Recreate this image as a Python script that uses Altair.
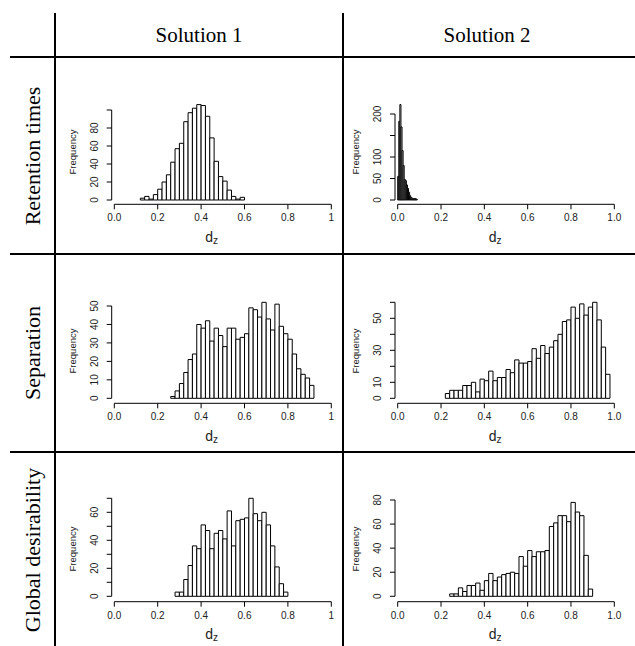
import altair as alt
import pandas as pd

# ---------------- data ----------------
BIN_W = 0.02

ret_sol1_start = 0.12
ret_sol1_counts = [2, 4, 1, 6, 12, 20, 28, 42, 57, 63, 87, 97, 102, 106, 105, 93,
                   69, 43, 26, 21, 11, 4, 1, 3]

ret_sol2_start = 0.0
ret_sol2_binw = 0.005
ret_sol2_counts = [55, 183, 222, 170, 115, 80, 48, 45, 35, 27, 18, 10, 6, 4, 3, 3, 3, 2]

sep_sol1_start = 0.26
sep_sol1_counts = [1, 4, 8, 14, 21, 24, 40, 38, 42, 31, 38, 34, 28, 38, 38, 32, 33,
                   35, 49, 48, 44, 52, 43, 37, 51, 39, 35, 32, 24, 16, 13, 11, 7]

sep_sol2_start = 0.22
sep_sol2_counts = [3, 5, 5, 5, 8, 8, 10, 4, 12, 11, 17, 11, 13, 13, 18, 16, 24, 22,
                   22, 23, 31, 25, 33, 28, 32, 36, 40, 48, 49, 57, 50, 59, 52, 57,
                   60, 49, 32, 15]

glob_sol1_start = 0.28
glob_sol1_counts = [3, 3, 12, 22, 36, 34, 51, 47, 34, 45, 47, 41, 61, 36, 54, 55, 56,
                    70, 59, 54, 60, 51, 36, 21, 9, 3]

glob_sol2_start = 0.24
glob_sol2_counts = [2, 2, 7, 4, 9, 9, 11, 5, 13, 19, 13, 16, 18, 19, 20, 19, 33, 25,
                    38, 33, 37, 37, 38, 58, 61, 67, 67, 62, 78, 70, 67, 34, 6]

x_tick_values = [0.0, 0.2, 0.4, 0.6, 0.8, 1.0]
x_labels_sol1 = ["0.0", "0.2", "0.4", "0.6", "0.8", "1"]
x_labels_sol2 = ["0.0", "0.2", "0.4", "0.6", "0.8", "1.0"]

y_ticks_ret1 = [0, 20, 40, 60, 80, 100]
y_labels_ret1 = ["0", "20", "40", "60", "80", ""]
y_ticks_ret2 = [0, 50, 100, 150, 200]
y_labels_ret2 = ["0", "50", "100", "", "200"]
y_ticks_sep1 = [0, 10, 20, 30, 40, 50]
y_labels_sep1 = ["0", "10", "20", "30", "40", "50"]
y_ticks_sep2 = [0, 10, 20, 30, 40, 50, 60]
y_labels_sep2 = ["0", "10", "", "30", "", "50", ""]
y_ticks_glob1 = [0, 10, 20, 30, 40, 50, 60, 70]
y_labels_glob1 = ["0", "", "20", "", "40", "", "60", ""]
y_ticks_glob2 = [0, 20, 40, 60, 80]
y_labels_glob2 = ["0", "20", "40", "60", "80"]

col_headers = ["Solution 1", "Solution 2"]
row_headers = ["Retention times", "Separation", "Global desirability"]

# ---------------- layout ----------------
W, H = 635, 646
COL_X = [(114.3, 331.3), (397.7, 614.3)]
COL_YAXIS_X = [111.7, 395.0]
ROW_Y0 = [200.0, 398.3, 596.3]
ROW_XAXIS_Y = [204.3, 403.3, 601.7]
FREQ_Y = [152.0, 351.0, 549.0]
DZ_Y = [238.0, 436.5, 634.5]
DZ_X = [213.0, 496.5]
HEADER_X = [199, 487]
HEADER_Y = 36
ROW_LABEL_X = 33
ROW_LABEL_Y = [156, 353, 550]

SANS = "Liberation Sans"
SERIF = "Liberation Serif"
TXT = "#222222"

panels = [
    dict(start=ret_sol1_start, binw=BIN_W, counts=ret_sol1_counts, col=0, row=0,
         yt=y_ticks_ret1, yl=y_labels_ret1, top_px=110.0),
    dict(start=ret_sol2_start, binw=ret_sol2_binw, counts=ret_sol2_counts, col=1, row=0,
         yt=y_ticks_ret2, yl=y_labels_ret2, top_px=114.0),
    dict(start=sep_sol1_start, binw=BIN_W, counts=sep_sol1_counts, col=0, row=1,
         yt=y_ticks_sep1, yl=y_labels_sep1, top_px=306.0),
    dict(start=sep_sol2_start, binw=BIN_W, counts=sep_sol2_counts, col=1, row=1,
         yt=y_ticks_sep2, yl=y_labels_sep2, top_px=302.3),
    dict(start=glob_sol1_start, binw=BIN_W, counts=glob_sol1_counts, col=0, row=2,
         yt=y_ticks_glob1, yl=y_labels_glob1, top_px=498.3),
    dict(start=glob_sol2_start, binw=BIN_W, counts=glob_sol2_counts, col=1, row=2,
         yt=y_ticks_glob2, yl=y_labels_glob2, top_px=500.0),
]

layers = []
one = pd.DataFrame({"k": [0]})

for p in panels:
    c, r = p["col"], p["row"]
    ytop = p["yt"][-1]
    xs = alt.Scale(domain=[0, 1], range=list(COL_X[c]), nice=False, zero=False)
    ys = alt.Scale(domain=[0, ytop], range=[ROW_Y0[r], p["top_px"]], nice=False, zero=False)

    n = len(p["counts"])
    lo = [round(p["start"] + i * p["binw"], 4) for i in range(n)]
    hi = [round(v + p["binw"], 4) for v in lo]
    hist = pd.DataFrame({"lo": lo, "hi": hi, "count": p["counts"], "base": [0] * n})

    layers.append(
        alt.Chart(hist).mark_rect(fill="white", stroke="black", strokeWidth=1).encode(
            x=alt.X("lo:Q", scale=xs, axis=None), x2="hi:Q",
            y=alt.Y("count:Q", scale=ys, axis=None), y2="base:Q")
    )

    # x axis
    ax_y = ROW_XAXIS_Y[r]
    xdom = pd.DataFrame({"a": [0.0], "b": [1.0]})
    layers.append(
        alt.Chart(xdom).mark_rule(color="black", strokeWidth=1).encode(
            x=alt.X("a:Q", scale=xs, axis=None), x2="b:Q", y=alt.value(ax_y))
    )
    xlabels = x_labels_sol1 if c == 0 else x_labels_sol2
    xt = pd.DataFrame({"v": x_tick_values, "lab": xlabels})
    layers.append(
        alt.Chart(xt).mark_rule(color="black", strokeWidth=1).encode(
            x=alt.X("v:Q", scale=xs, axis=None), y=alt.value(ax_y), y2=alt.value(ax_y + 5))
    )
    layers.append(
        alt.Chart(xt).mark_text(font=SANS, fontSize=10, color=TXT, baseline="middle",
                                align="center").encode(
            x=alt.X("v:Q", scale=xs, axis=None), y=alt.value(ax_y + 14), text="lab:N")
    )

    # y axis
    ax_x = COL_YAXIS_X[c]
    ydom = pd.DataFrame({"a": [0], "b": [ytop]})
    layers.append(
        alt.Chart(ydom).mark_rule(color="black", strokeWidth=1).encode(
            y=alt.Y("a:Q", scale=ys, axis=None), y2="b:Q", x=alt.value(ax_x))
    )
    yt = pd.DataFrame({"v": p["yt"], "lab": p["yl"]})
    layers.append(
        alt.Chart(yt).mark_rule(color="black", strokeWidth=1).encode(
            y=alt.Y("v:Q", scale=ys, axis=None), x=alt.value(ax_x - 5), x2=alt.value(ax_x))
    )
    ylab = yt[yt["lab"] != ""]
    layers.append(
        alt.Chart(ylab).mark_text(font=SANS, fontSize=10, color=TXT, angle=270,
                                  baseline="middle", align="center").encode(
            y=alt.Y("v:Q", scale=ys, axis=None), x=alt.value(ax_x - 17), text="lab:N")
    )
    # axis titles
    layers.append(
        alt.Chart(one).mark_text(text="Frequency", font=SANS, fontSize=9.5, color=TXT,
                                 angle=270, baseline="middle", align="center").encode(
            x=alt.value(ax_x - 39), y=alt.value(FREQ_Y[r]))
    )
    layers.append(
        alt.Chart(one).mark_text(text="d", font=SANS, fontSize=14, color=TXT,
                                 baseline="middle", align="right").encode(
            x=alt.value(DZ_X[c]), y=alt.value(DZ_Y[r]))
    )
    layers.append(
        alt.Chart(one).mark_text(text="z", font=SANS, fontSize=10, color=TXT,
                                 baseline="middle", align="left").encode(
            x=alt.value(DZ_X[c]), y=alt.value(DZ_Y[r] + 3))
    )

# table lines
LW = 2
for yv in [57, 254, 452]:
    layers.append(alt.Chart(one).mark_rule(color="black", strokeWidth=LW).encode(
        x=alt.value(10), x2=alt.value(W), y=alt.value(yv)))
for xv in [55, 343]:
    layers.append(alt.Chart(one).mark_rule(color="black", strokeWidth=LW).encode(
        x=alt.value(xv), y=alt.value(13), y2=alt.value(H)))

# headers
for i, h in enumerate(col_headers):
    layers.append(alt.Chart(one).mark_text(text=h, font=SERIF, fontSize=21, color="black",
                                           baseline="middle", align="center").encode(
        x=alt.value(HEADER_X[i]), y=alt.value(HEADER_Y)))
for i, h in enumerate(row_headers):
    layers.append(alt.Chart(one).mark_text(text=h, font=SERIF, fontSize=22, color="black",
                                           angle=270, baseline="middle", align="center").encode(
        x=alt.value(ROW_LABEL_X), y=alt.value(ROW_LABEL_Y[i])))

chart = alt.layer(*layers).resolve_scale(x="independent", y="independent").properties(
    width=W, height=H, autosize=alt.AutoSizeParams(type="none"), padding=0,
    background="white"
).configure_view(stroke=None)

chart.save("out.html", embed_options={"renderer": "svg", "actions": False})
